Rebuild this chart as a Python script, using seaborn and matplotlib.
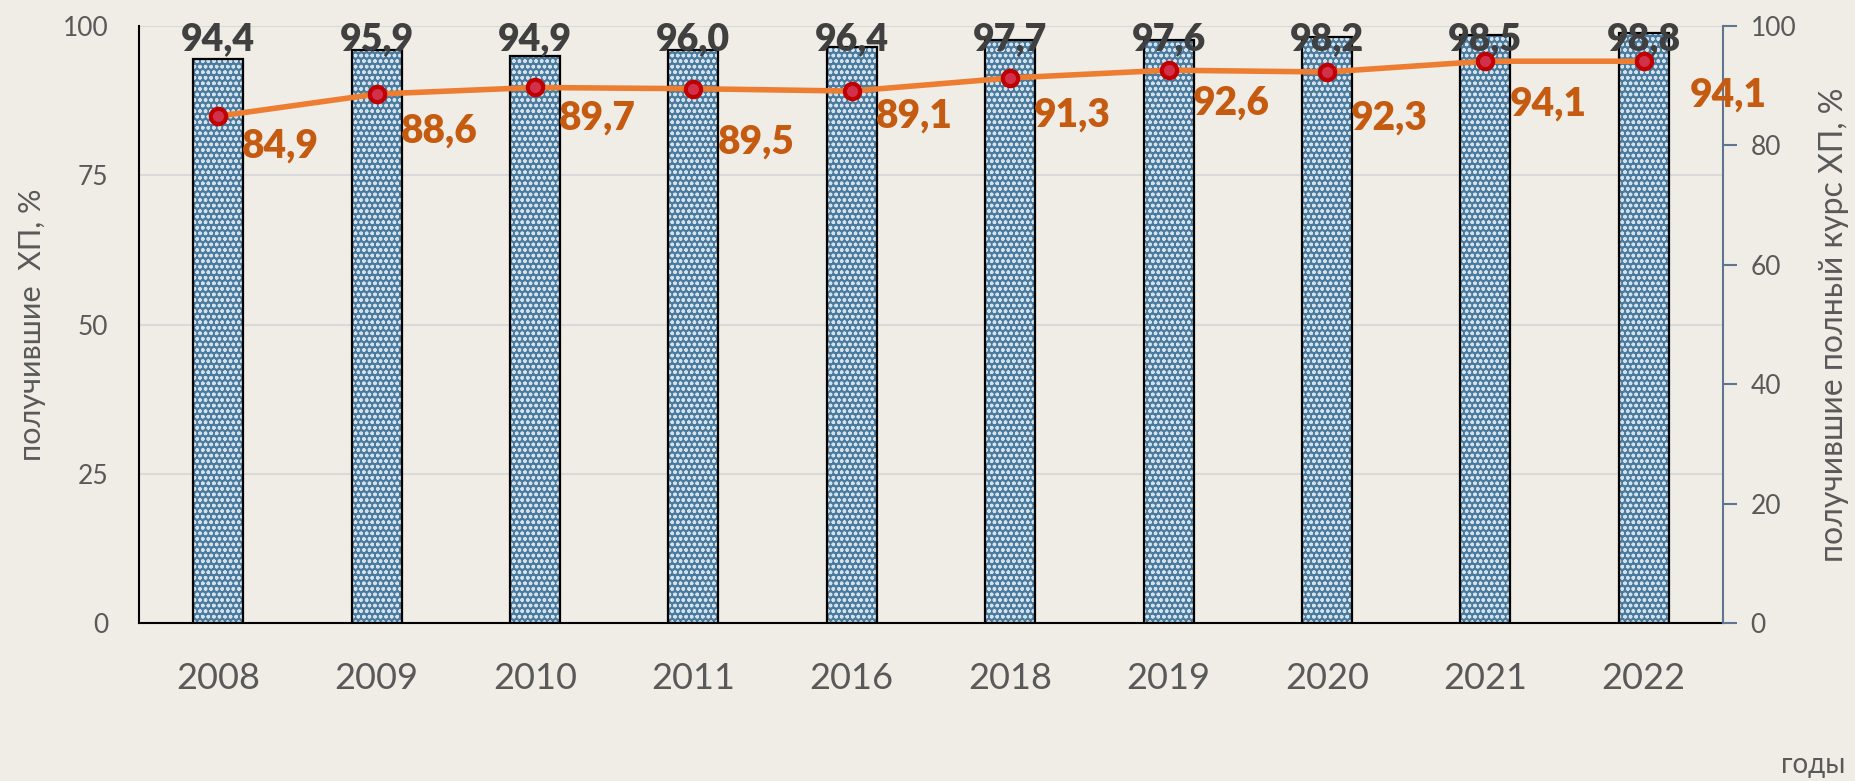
import numpy as np
import pandas as pd
import seaborn as sns
import matplotlib.pyplot as plt

# data
years = ['2008', '2009', '2010', '2011', '2016', '2018', '2019', '2020', '2021', '2022']
got_vaccine = [94.4, 95.9, 94.9, 96.0, 96.4, 97.7, 97.6, 98.2, 98.5, 98.8]
full_course = [84.9, 88.6, 89.7, 89.5, 89.1, 91.3, 92.6, 92.3, 94.1, 94.1]

# label nudges (pixels) for the orange labels
label_dx = [24, 24, 24, 24, 24, 24, 24, 24, 24, 46]
label_dy = [30, 37, 31, 53, 25, 37, 33, 46, 43, 34]

bg = '#EFEDE5'
gray = '#595959'

sns.set_theme(style='white')
plt.rcParams['font.family'] = ['Lato', 'DejaVu Sans']
plt.rcParams['hatch.linewidth'] = 1.0

df = pd.DataFrame({'year': years, 'got': got_vaccine, 'full': full_course})

fig = plt.figure(figsize=(18.56, 7.81), dpi=100, facecolor=bg)
ax = fig.add_axes([0.0749, 0.2023, 0.8534, 0.7644])
ax.set_facecolor(bg)

# bars: hatched fill first, black outline on top
sns.barplot(data=df, x='year', y='got', ax=ax, color='#4a7a9e', width=0.316,
            edgecolor='#d3e1ea', linewidth=0, hatch='ooo', saturation=1, zorder=2)
sns.barplot(data=df, x='year', y='got', ax=ax, fill=False, color='black',
            width=0.316, linewidth=1.6, zorder=3)

ax.set_ylim(0, 100)
ax.set_xlim(-0.5, len(years) - 0.5)
ax.set_yticks([0, 25, 50, 75, 100])
ax.yaxis.grid(True, color='#d9d9d9', linewidth=1.5, zorder=0)
ax.set_axisbelow(True)
for s in ['top', 'right']:
    ax.spines[s].set_visible(False)
ax.spines['left'].set_color('black')
ax.spines['bottom'].set_color('black')
ax.spines['left'].set_linewidth(1.5)
ax.spines['bottom'].set_linewidth(1.5)
ax.tick_params(axis='y', length=0, pad=22, labelsize=19, labelcolor=gray)
ax.tick_params(axis='x', which='major', length=0, pad=28, labelsize=26, labelcolor=gray)
ax.set_xticks(np.arange(-0.5, len(years), 1), minor=True)
ax.tick_params(axis='x', which='minor', length=13, width=1.5, color='black', direction='out')
ax.set_xlabel('')
ax.set_ylabel('получившие  ХП, %', fontsize=22, color=gray, labelpad=12)

for i, v in enumerate(got_vaccine):
    ax.text(i, 96.0, f'{v:.1f}'.replace('.', ','), ha='center', va='baseline',
            fontsize=27, fontweight='heavy', color='#404040', zorder=5)

# line on the right axis
ax2 = ax.twinx()
sns.pointplot(data=df, x='year', y='full', ax=ax2, color='#ED7D31',
              linewidth=4, markers='o', markersize=11, zorder=4)
for ln in ax2.lines:
    ln.set_markerfacecolor('#D2314C')
    ln.set_markeredgecolor('#C00000')
    ln.set_markeredgewidth(3)
ax2.set_ylim(0, 100)
ax2.set_xlim(-0.5, len(years) - 0.5)
ax2.set_yticks([0, 20, 40, 60, 80, 100])
for s in ['top', 'left', 'bottom']:
    ax2.spines[s].set_visible(False)
ax2.spines['right'].set_color('#5f7590')
ax2.spines['right'].set_linewidth(1.5)
ax2.tick_params(axis='y', length=10, width=1.5, color='#5f7590', pad=10,
                labelsize=19, labelcolor=gray)
ax2.set_xlabel('')
ax2.set_ylabel('получившие полный курс ХП, %', fontsize=23, color=gray, labelpad=16)

for i, v in enumerate(full_course):
    ax2.annotate(f'{v:.1f}'.replace('.', ','), xy=(i, v),
                 xytext=(label_dx[i], -label_dy[i]), textcoords='offset pixels',
                 ha='left', va='center', fontsize=28, fontweight='heavy',
                 color='#C55A11', zorder=6, annotation_clip=False)

fig.text(0.977, 0.004, 'годы', ha='center', va='bottom', fontsize=20, color=gray)

fig.savefig('out.png', dpi=100, facecolor=bg)
